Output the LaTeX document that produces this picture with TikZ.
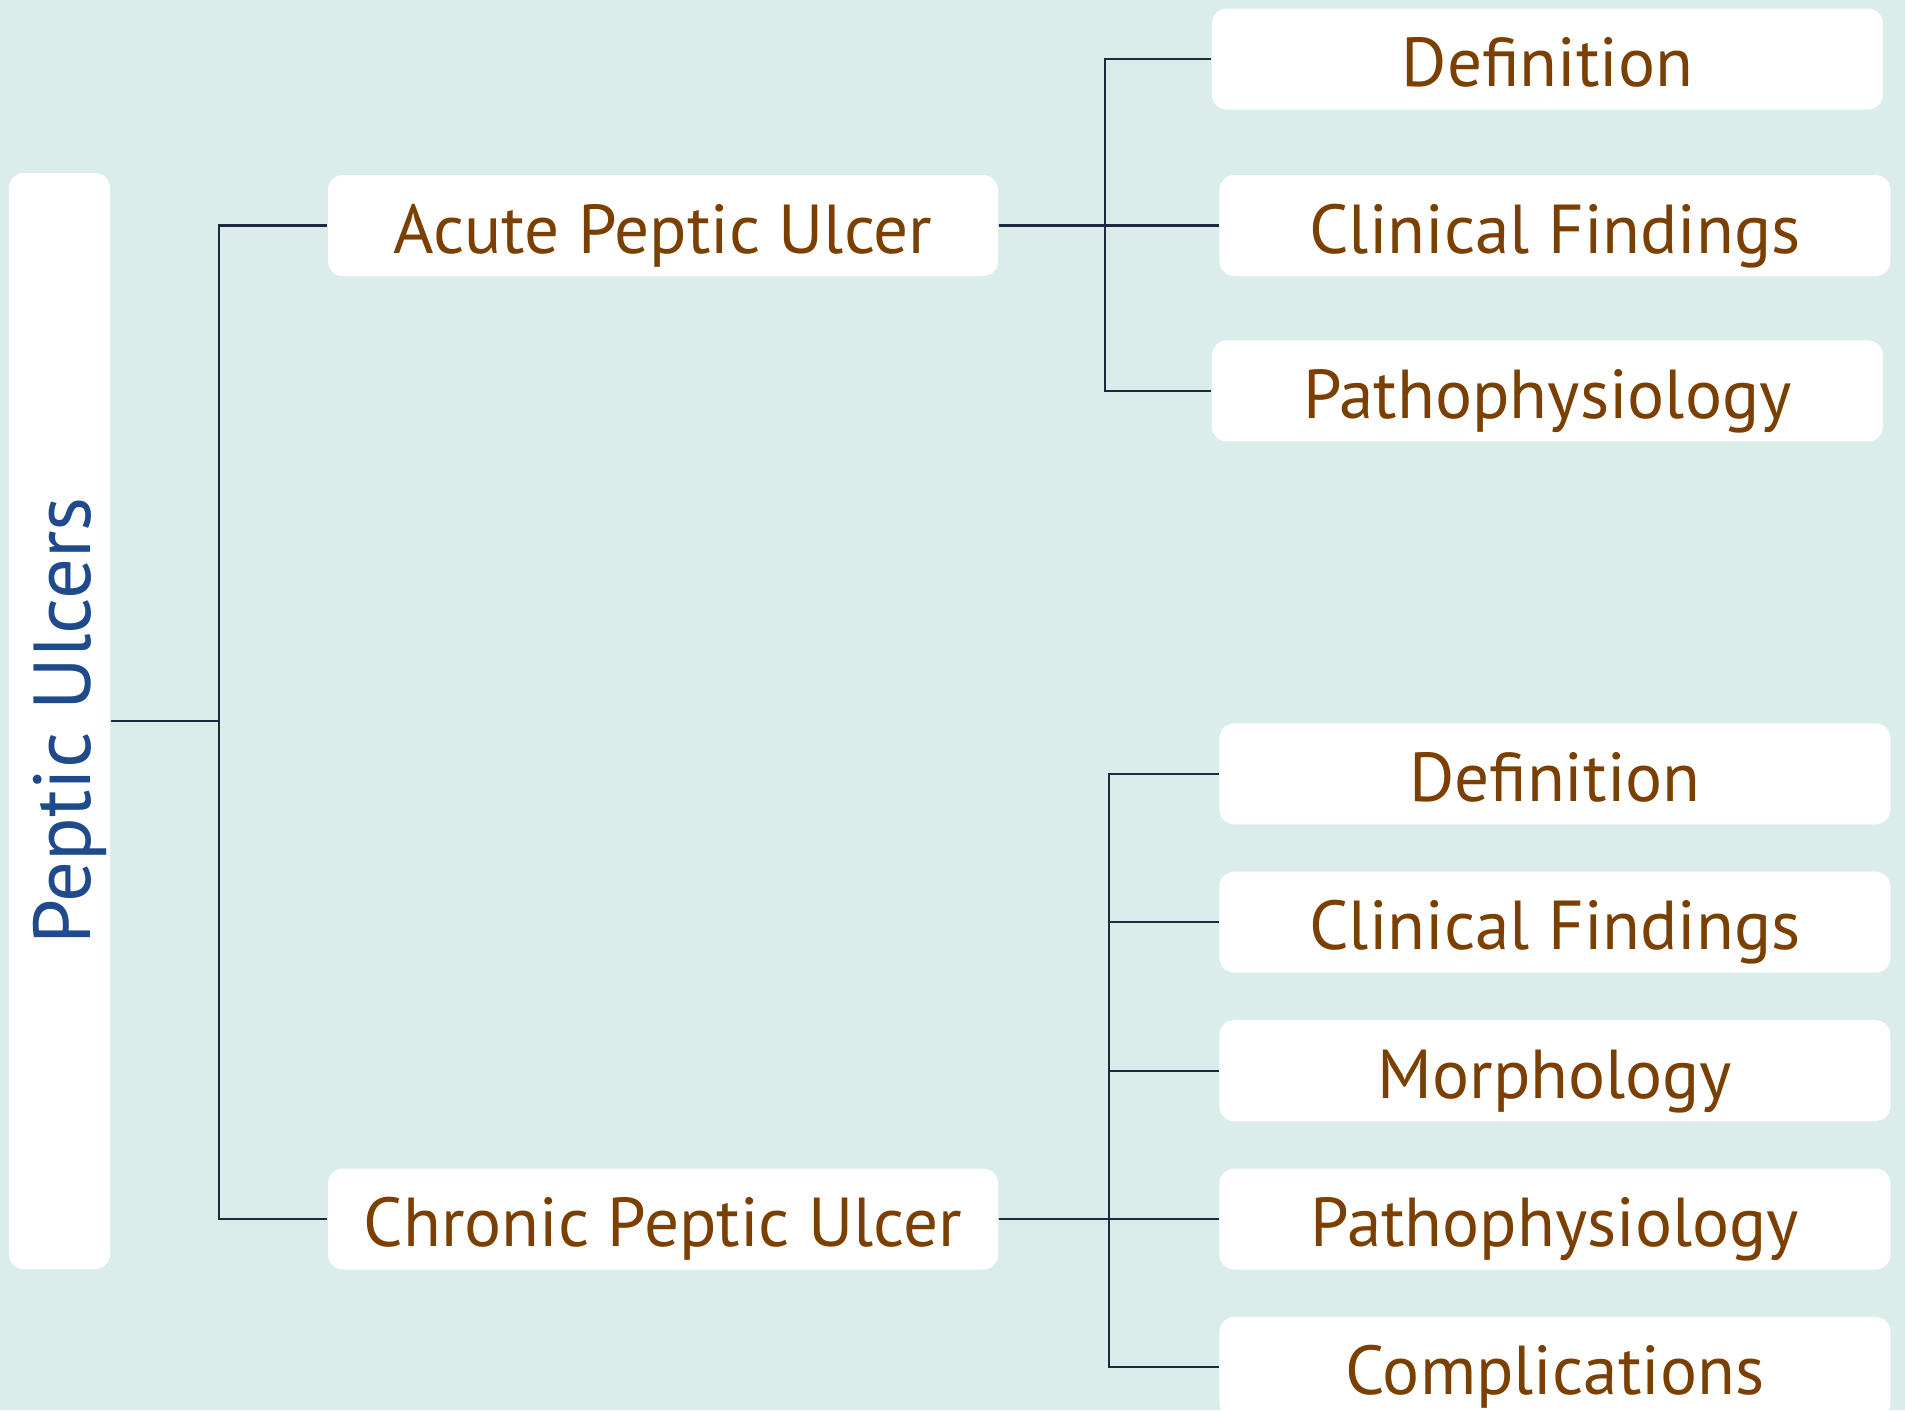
\documentclass[tikz,border=0pt]{standalone}
\usepackage{fontspec}
\setmainfont{PT Sans}
\usetikzlibrary{positioning}

\definecolor{ulcerbg}{RGB}{219,237,234}
\definecolor{ulcertext}{RGB}{123,63,0}
\definecolor{ulcerblue}{RGB}{31,75,140}
\definecolor{ulcerline}{RGB}{30,40,65}

\begin{document}
\begin{tikzpicture}[
  node distance=0.46cm,
  every node/.style={font=\fontsize{19.7}{24}\selectfont},
  box/.style={rectangle, fill=white, rounded corners=0.15cm, minimum height=1.01cm,
    inner sep=4pt, text centered, text=ulcertext, text height=0.6cm, text depth=0.05cm},
  topic/.style={box, minimum width=6.70cm},
  leaf/.style={box, minimum width=6.71cm},
  link/.style={draw=ulcerline, line width=0.6pt}
]
  \useasboundingbox (0,0) rectangle (19.05,-14.10);
  \fill[ulcerbg] (0,0) rectangle (19.05,-14.10);

  \node[box, rotate=90, minimum width=10.96cm, minimum height=0.99cm, text=ulcerblue,
        font=\fontsize{23}{27}\selectfont, text height=0.68cm, text depth=0.05cm]
        (root) at (0.595,-7.21) {Peptic Ulcers};
  \node[topic] (acute)   at (6.63,-2.255) {Acute Peptic Ulcer};
  \node[topic] (chronic) at (6.63,-12.19) {Chronic Peptic Ulcer};

  % acute branch
  \node[leaf, right=2.2cm of acute]                       (aclin)  {Clinical Findings};
  \node[leaf, above=0.64cm of aclin, xshift=-0.075cm]     (adef)   {Definition};
  \node[leaf, below=0.63cm of aclin, xshift=-0.075cm]     (apath)  {Pathophysiology};

  % chronic branch
  \node[leaf, right=2.2cm of chronic] (cpath)  {Pathophysiology};
  \node[leaf, above=of cpath]         (cmorph) {Morphology};
  \node[leaf, above=of cmorph]        (cclin)  {Clinical Findings};
  \node[leaf, above=of cclin]         (cdef)   {Definition};
  \node[leaf, below=of cpath]         (ccomp)  {Complications};

  \draw[link] (root.south) -- ++(1.085,0) |- (acute.west);
  \draw[link] (root.south) -- ++(1.085,0) |- (chronic.west);

  \draw[link] (acute.east) -- (aclin.west);
  \draw[link] (acute.east) -- ++(1.06,0) |- (adef.west);
  \draw[link] (acute.east) -- ++(1.06,0) |- (apath.west);

  \foreach \leaf in {cdef, cclin, cmorph, cpath, ccomp}
    \draw[link] (chronic.east) -- ++(1.10,0) |- (\leaf.west);
\end{tikzpicture}
\end{document}
